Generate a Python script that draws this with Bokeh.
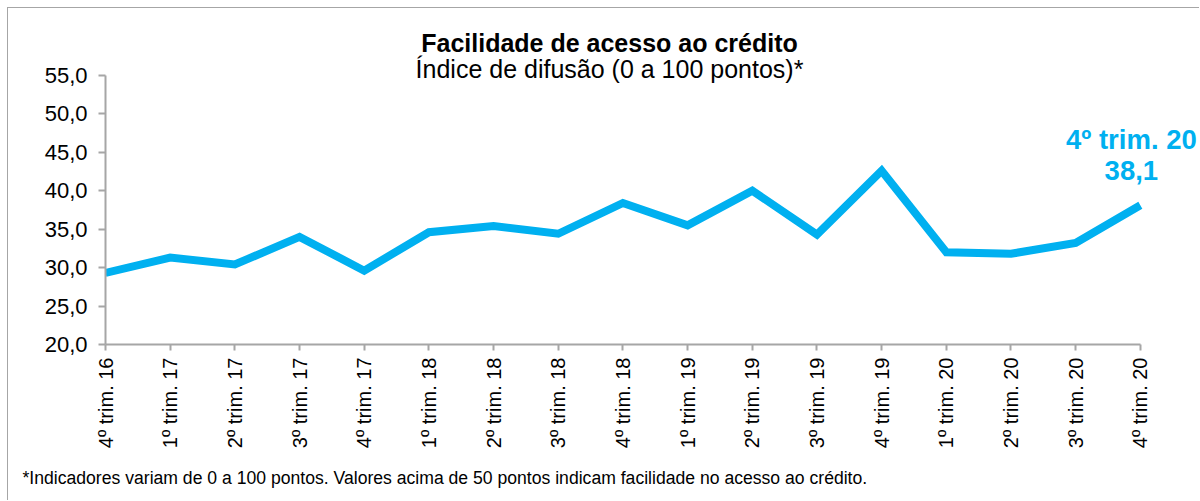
import math
from bokeh.plotting import figure
from bokeh.models import Range1d, FixedTicker, Label, Title
from bokeh.embed import file_html
from bokeh.resources import INLINE

# ---- data ----
categories = ["4º trim. 16", "1º trim. 17", "2º trim. 17", "3º trim. 17", "4º trim. 17",
              "1º trim. 18", "2º trim. 18", "3º trim. 18", "4º trim. 18",
              "1º trim. 19", "2º trim. 19", "3º trim. 19", "4º trim. 19",
              "1º trim. 20", "2º trim. 20", "3º trim. 20", "4º trim. 20"]
values = [29.3, 31.3, 30.4, 34.0, 29.6, 34.6, 35.4, 34.4, 38.4,
          35.5, 40.0, 34.3, 42.6, 32.0, 31.8, 33.2, 38.1]
y_ticks = [20, 25, 30, 35, 40, 45, 50, 55]
y_tick_labels = ["20,0", "25,0", "30,0", "35,0", "40,0", "45,0", "50,0", "55,0"]

title_text = "Facilidade de acesso ao crédito"
subtitle_text = "Índice de difusão (0 a 100 pontos)*"
footnote_text = ("*Indicadores variam de 0 a 100 pontos. Valores acima de 50 pontos "
                 "indicam facilidade no acesso ao crédito.")

FONT = "Liberation Sans"
BLUE = "#00B0F0"
AXIS = "#A6A6A6"

xs = list(range(len(categories)))
n_last = len(categories) - 1

p = figure(width=1192, height=493, output_backend="svg", toolbar_location=None,
           x_range=Range1d(0, n_last + 0.93), y_range=Range1d(y_ticks[0], 63.69),
           min_border_left=97, min_border_right=0, min_border_top=0, min_border_bottom=156)
p.styles = {"margin-left": "7px", "margin-top": "7px",
            "border-left": "1px solid #A6A6A6", "border-top": "1px solid #A6A6A6"}
p.outline_line_color = None
p.grid.visible = False
p.background_fill_color = "white"
p.border_fill_color = "white"

p.line(xs, values, line_width=8, line_color=BLUE, line_join="miter")

# axes
p.xaxis.ticker = FixedTicker(ticks=xs)
p.xaxis.bounds = (0, n_last)
p.xaxis.major_label_overrides = {i: c for i, c in enumerate(categories)}
p.xaxis.major_label_orientation = math.pi / 2
p.yaxis.ticker = FixedTicker(ticks=y_ticks)
p.yaxis.bounds = (y_ticks[0], y_ticks[-1])
p.yaxis.major_label_overrides = {t: l for t, l in zip(y_ticks, y_tick_labels)}
for ax in (p.xaxis, p.yaxis):
    ax.axis_line_color = AXIS
    ax.axis_line_width = 2
    ax.major_tick_line_color = AXIS
    ax.major_tick_line_width = 2
    ax.major_tick_in = 0
    ax.major_tick_out = 7
    ax.minor_tick_line_color = None
    ax.major_label_text_font = FONT
    ax.major_label_text_color = "#000000"
p.yaxis.major_label_text_font_size = "22px"
p.yaxis.major_label_standoff = 11
p.xaxis.major_label_text_font_size = "20px"
p.xaxis.major_tick_out = 6
p.xaxis.major_label_standoff = 7

# title / subtitle (screen units relative to frame)
p.add_layout(Label(x=504, y=302, x_units="screen", y_units="screen", text=title_text,
                   text_font=FONT, text_font_style="bold", text_font_size="25px",
                   text_align="center", text_baseline="alphabetic", text_color="#000000"))
p.add_layout(Label(x=504, y=276, x_units="screen", y_units="screen", text=subtitle_text,
                   text_font=FONT, text_font_size="25px",
                   text_align="center", text_baseline="alphabetic", text_color="#000000"))

# footnote
p.add_layout(Title(text=footnote_text, align="left", offset=-83, text_font=FONT,
                   text_font_size="17.6px", text_font_style="normal", text_color="#000000",
                   standoff=28), "below")

# last-point annotation
p.add_layout(Label(x=n_last, y=values[-1], x_offset=-9, y_offset=66,
                   text=categories[-1], text_font=FONT, text_font_style="bold",
                   text_font_size="27.5px", text_align="center", text_baseline="alphabetic",
                   text_color=BLUE))
p.add_layout(Label(x=n_last, y=values[-1], x_offset=-9, y_offset=35,
                   text=f"{values[-1]:.1f}".replace(".", ","), text_font=FONT,
                   text_font_style="bold", text_font_size="27.5px", text_align="center",
                   text_baseline="alphabetic", text_color=BLUE))

open("out.html", "w").write(file_html(p, INLINE))
